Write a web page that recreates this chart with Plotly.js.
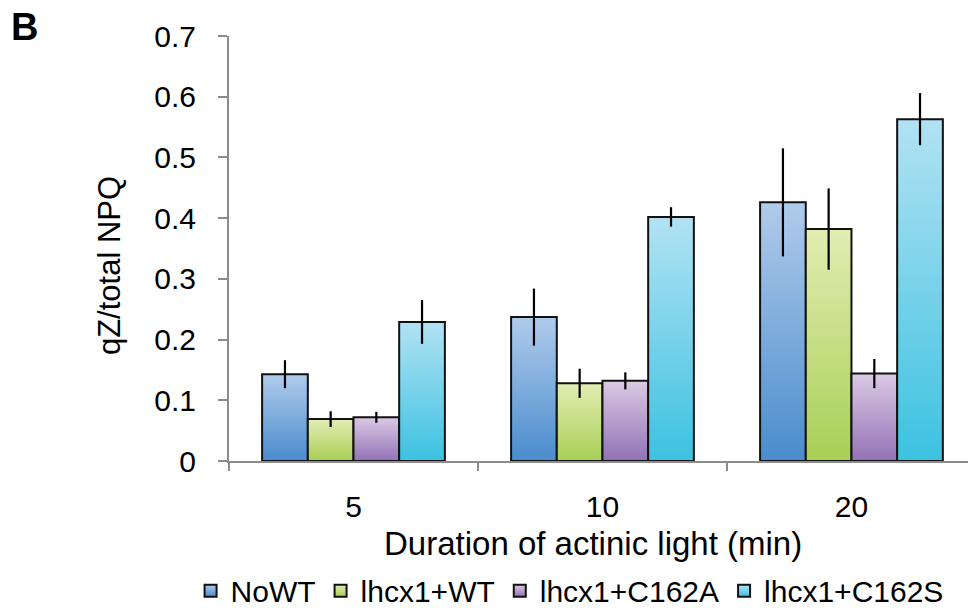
<!DOCTYPE html>
<html>
<head>
<meta charset="utf-8">
<script src="https://cdn.plot.ly/plotly-3.0.1.min.js"></script>
<style>
  html, body { margin: 0; padding: 0; background: #ffffff; }
  #chart { width: 968px; height: 608px; }
</style>
</head>
<body>
<div id="chart"></div>
<script>
// ---- data ----
const categories = ["5", "10", "20"];
const seriesNames = ["NoWT", "lhcx1+WT", "lhcx1+C162A", "lhcx1+C162S"];
const noWT      = [0.143, 0.237, 0.426];
const noWTErr   = [0.023, 0.047, 0.089];
const wt        = [0.069, 0.128, 0.382];
const wtErr     = [0.013, 0.024, 0.067];
const c162a     = [0.072, 0.132, 0.144];
const c162aErr  = [0.009, 0.014, 0.024];
const c162s     = [0.229, 0.402, 0.563];
const c162sErr  = [0.036, 0.016, 0.043];
const yTicks    = [0, 0.1, 0.2, 0.3, 0.4, 0.5, 0.6, 0.7];
const yTickText = ["0", "0.1", "0.2", "0.3", "0.4", "0.5", "0.6", "0.7"];
const xTitle = "Duration of actinic light (min)";
const yTitle = "qZ/total NPQ";
const panelLabel = "B";

// ---- styling ----
const gradTop    = ["#b0cbeb", "#e2edb3", "#dbc9e4", "#b2e2f3"];
const gradBottom = ["#4a8ccd", "#a8cf55", "#9272b6", "#3cc2e1"];
const midColor   = ["#7ea9dc", "#c5dc85", "#b89fcd", "#77d0ea"];
const FONT = "Liberation Sans, Arial, Helvetica, sans-serif";

const values = [noWT, wt, c162a, c162s];
const errors = [noWTErr, wtErr, c162aErr, c162sErr];

const traces = seriesNames.map((name, i) => ({
  type: "bar",
  name: name,
  x: categories,
  y: values[i],
  error_y: { type: "data", array: errors[i], visible: true, color: "#000000", thickness: 2.2, width: 0 },
  marker: { color: midColor[i], line: { color: "#111111", width: 2 } },
  hoverinfo: "skip"
}));

const layout = {
  width: 968,
  height: 608,
  margin: { l: 229, r: 0, t: 36, b: 147, pad: 0, autoexpand: false },
  paper_bgcolor: "#ffffff",
  plot_bgcolor: "#ffffff",
  font: { family: FONT, color: "#000000", size: 30 },
  barmode: "group",
  bargap: 0.266,
  bargroupgap: 0,
  showlegend: true,
  legend: {
    orientation: "h",
    x: -0.052, xanchor: "left",
    y: -0.305, yanchor: "middle",
    font: { family: FONT, size: 30, color: "#000000" },
    traceorder: "normal",
    itemclick: false
  },
  xaxis: {
    type: "category",
    range: [-0.5, 2.468],
    showline: true, linecolor: "#8c8c8c", linewidth: 2,
    ticks: "outside", tickson: "boundaries", ticklen: 8, tickcolor: "#8c8c8c", tickwidth: 2,
    ticklabelstandoff: 18,
    showgrid: false, zeroline: false,
    tickfont: { family: FONT, size: 30, color: "#000000" }
  },
  yaxis: {
    range: [0, 0.7],
    tickvals: yTicks, ticktext: yTickText,
    showline: true, linecolor: "#8c8c8c", linewidth: 2,
    ticks: "outside", ticklen: 9, tickcolor: "#8c8c8c", tickwidth: 2,
    ticklabelstandoff: 16,
    showgrid: false, zeroline: false,
    tickfont: { family: FONT, size: 30, color: "#000000" }
  },
  annotations: [
    {
      text: "<b>" + panelLabel + "</b>", xref: "paper", yref: "paper",
      x: -0.2977, y: 1.076, xanchor: "left", yanchor: "top",
      showarrow: false, font: { family: FONT, size: 38, color: "#000000" }
    },
    {
      text: yTitle, xref: "paper", yref: "paper",
      x: -0.1624, y: 0.461, xanchor: "center", yanchor: "middle",
      textangle: -90, showarrow: false,
      font: { family: FONT, size: 31, color: "#000000" }
    },
    {
      text: xTitle, xref: "paper", yref: "paper",
      x: 0.4926, y: -0.193, xanchor: "center", yanchor: "middle",
      showarrow: false,
      font: { family: FONT, size: 33, color: "#000000" }
    }
  ]
};

const gd = document.getElementById("chart");
Plotly.newPlot(gd, traces, layout, { staticPlot: true, displayModeBar: false }).then(() => {
  const svgNS = "http://www.w3.org/2000/svg";
  const defs = gd.querySelector("svg.main-svg defs");
  if (!defs) return;
  gradTop.forEach((top, i) => {
    const lg = document.createElementNS(svgNS, "linearGradient");
    lg.setAttribute("id", "bargrad" + i);
    lg.setAttribute("x1", "0"); lg.setAttribute("y1", "0");
    lg.setAttribute("x2", "0"); lg.setAttribute("y2", "1");
    const s1 = document.createElementNS(svgNS, "stop");
    s1.setAttribute("offset", "0"); s1.setAttribute("stop-color", top);
    const s2 = document.createElementNS(svgNS, "stop");
    s2.setAttribute("offset", "1"); s2.setAttribute("stop-color", gradBottom[i]);
    lg.appendChild(s1); lg.appendChild(s2);
    defs.appendChild(lg);
  });
  gd.querySelectorAll(".barlayer .trace").forEach((tr, i) => {
    tr.querySelectorAll(".point path").forEach(p => { p.style.fill = "url(#bargrad" + i + ")"; });
  });
  gd.querySelectorAll(".legend .traces").forEach((tr, i) => {
    tr.querySelectorAll(".legendpoints path").forEach(p => { p.style.fill = "url(#bargrad" + i + ")"; });
  });
});
</script>
</body>
</html>
